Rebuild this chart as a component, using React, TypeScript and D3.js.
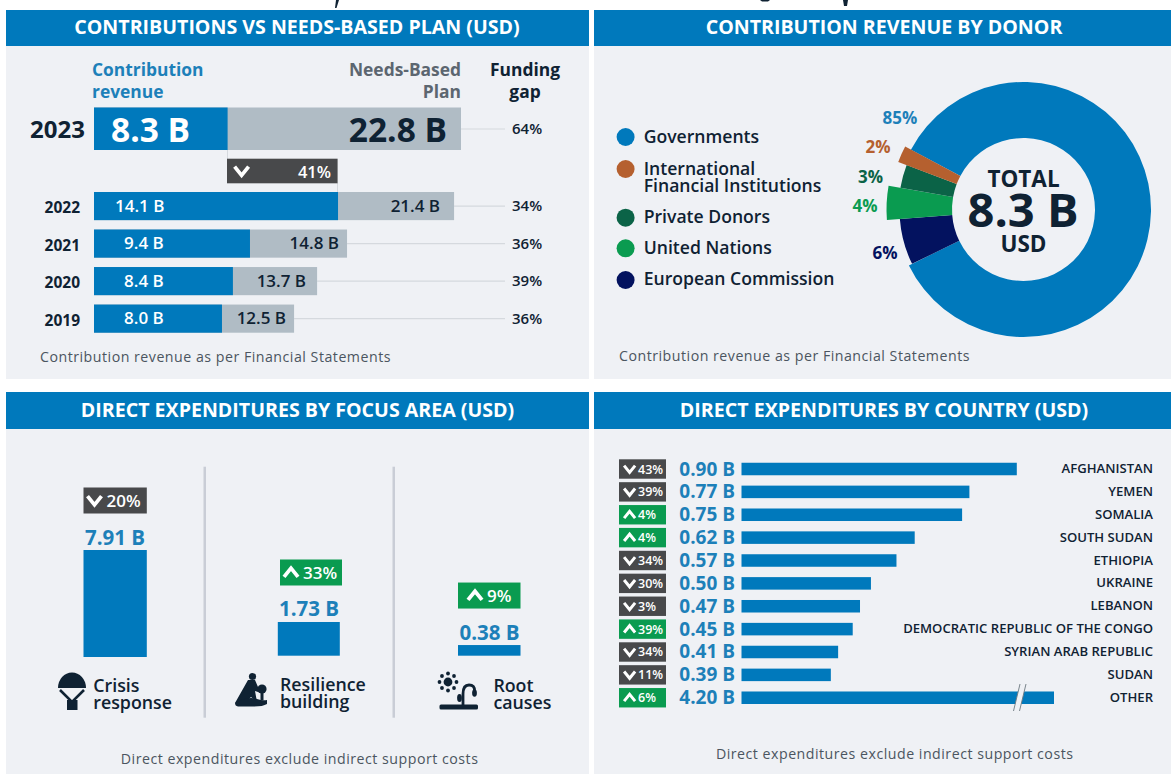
import React from "react";
import * as d3 from "d3";

const FONT = "'Open Sans', 'Noto Sans', sans-serif";
const BLUE = "#0079bc";
const TEXT_BLUE = "#1d80b9";
const INK = "#0f2233";
const PANEL = "#eff1f5";
const GREY_BAR = "#b0bcc5";
const DARK_BADGE = "#48494b";
const GREEN_BADGE = "#0a9b50";
const RULE = "#d5d9de";
const NOTE = "#4b5560";

// contributions vs needs-based plan
const planYears = ["2022", "2021", "2020", "2019"];
const contributionLabels = ["14.1 B", "9.4 B", "8.4 B", "8.0 B"];
const needsLabels = ["21.4 B", "14.8 B", "13.7 B", "12.5 B"];
const gapLabels = ["34%", "36%", "39%", "36%"];
// the bars in the source are not quite to scale, so these are read off the bar lengths, in B
const contributionBars = [15.16, 9.69, 8.63, 7.95];
const needsBars = [22.37, 15.72, 13.86, 12.43];
const latestContribution = 8.3;
const latestNeeds = 22.8;

// donor donut
const donors = ["Governments", "European Commission", "United Nations", "Private Donors", "International Financial Institutions"];
const donorShares = [85, 6, 4, 3, 2];
const donorColors = ["#0079bc", "#03125f", "#0a9b50", "#0b6347", "#b5602f"];
const donorRadii = [127.5, 124, 137, 125, 134];

// focus areas
const focusAreas = ["Crisis response", "Resilience building", "Root causes"];
const focusValues = [7.91, 1.73, 0.38];
const focusChanges = [-20, 33, 9];

// countries
const countries = [
  "AFGHANISTAN", "YEMEN", "SOMALIA", "SOUTH SUDAN", "ETHIOPIA", "UKRAINE", "LEBANON",
  "DEMOCRATIC REPUBLIC OF THE CONGO", "SYRIAN ARAB REPUBLIC", "SUDAN", "OTHER",
];
const countryValues = [0.9, 0.77, 0.75, 0.62, 0.57, 0.5, 0.47, 0.45, 0.41, 0.39, 4.2];
const countryChanges = [-43, -39, 4, 4, -34, -30, -3, 39, -34, -11, 6];

const planX = d3.scaleLinear().domain([0, 22.8]).range([94, 461]);
const planY = d3.scaleBand().domain(planYears).range([192, 332.7]).paddingInner(0.25);
const focusH = d3.scalePow().exponent(0.76).domain([0, 7.91]).range([0, 107]);
// truncated axis with a break past 0.90 for the "other" bar
const countryX = d3.scaleLinear().domain([0.145, 0.9, 4.2]).range([741.5, 1016.8, 1054]);
const countryY = d3.scaleBand().domain(countries).range([462.75, 704]).paddingInner(0.453);

function Txt({ x, y, size, weight = 600, fill = INK, anchor = "start", children, spacing }: any) {
  return (
    <text x={x} y={y} fontSize={size} fontWeight={weight} fill={fill} textAnchor={anchor}
      dominantBaseline="central" letterSpacing={spacing} fontFamily={FONT}>
      {children}
    </text>
  );
}

function Chevron({ x, y, size, up }: any) {
  const h = size * 0.62;
  const d = up
    ? `M${x - size / 2},${y + h / 2}L${x},${y - h / 2}L${x + size / 2},${y + h / 2}`
    : `M${x - size / 2},${y - h / 2}L${x},${y + h / 2}L${x + size / 2},${y - h / 2}`;
  return <path d={d} fill="none" stroke="#fff" strokeWidth={size * 0.27} />;
}

function Panel({ x, y, w, h, title }: any) {
  return (
    <g>
      <rect x={x} y={y} width={w} height={h} fill={PANEL} />
      <rect x={x} y={y} width={w} height={title.bar} fill={BLUE} />
      <Txt x={x + w / 2 + title.dx} y={y + title.bar / 2 - 1.2} size={19.6} weight={700} fill="#fff" anchor="middle">{title.text}</Txt>
    </g>
  );
}

function ParachuteIcon() {
  return (
    <g fill={INK}>
      <path d="M58,688 A14,15.5 0 0 1 86,688 Z" />
      <path d="M60,690 L72,702 L84,690" fill="none" stroke={INK} strokeWidth={2.6} />
      <rect x={67} y={700} width={10.5} height={10} />
    </g>
  );
}

function ResilienceIcon() {
  return (
    <g fill={INK}>
      <circle cx={252.5} cy={676.5} r={3.6} />
      <path d="M248,680 L255,680 L258,687 L263,689 L261,693 L255,691 L257,702 L251,697 L245,703 L235,703 Z" />
      <circle cx={262} cy={689} r={4.6} />
      <path d="M260.5,693 L263.5,693 L263.5,700 L260.5,700 Z" />
      <path d="M235,703 Q248,696 257,699 Q263,701 267,700 L267,704 Q262,707 250,706.5 L238,706.5 Q235,706 235,703 Z" />
    </g>
  );
}

function RootIcon() {
  const rays = d3.range(8).map((i) => (i * Math.PI) / 4);
  return (
    <g fill={INK}>
      <circle cx={448} cy={682} r={4.4} />
      {rays.map((a, i) => (
        <circle key={i} cx={448 + 8.5 * Math.cos(a)} cy={682 + 8.5 * Math.sin(a)} r={1.9} />
      ))}
      <rect x={439.5} y={704.5} width={38.5} height={5} rx={1.5} />
      <path d="M463,705 L463,694 Q463,685 469,685 Q475,685 474.5,691" fill="none" stroke={INK} strokeWidth={2.8} />
      <ellipse cx={474.5} cy={693} rx={2.4} ry={3.8} />
      <ellipse cx={459.5} cy={698} rx={2.4} ry={4} />
    </g>
  );
}

export default function App() {
  const pie = d3.pie<number>().sort(null)
    .startAngle((-62 * Math.PI) / 180)
    .endAngle((298 * Math.PI) / 180);
  const arcs = pie(donorShares);
  const arc = d3.arc<any>().innerRadius(71.5);

  const focusBars = [
    { x: 83.5, w: 63.3, bx: 83.5, bw: 63.3, label: 115, base: 657 },
    { x: 277.8, w: 62, bx: 280, bw: 62, label: 309, base: 655.7 },
    { x: 458, w: 62.5, bx: 458, bw: 62.5, label: 489.5, base: 655.7 },
  ];
  const focusText = [
    { x: 93.3, y: [684.5, 702] },
    { x: 280, y: [683.5, 700.5] },
    { x: 493.4, y: [684.5, 701.5] },
  ];
  const needsLabelInset = [14, 8, 11, 8];

  return (
    <svg width={1171} height={774} style={{ position: "absolute", left: 0, top: 0, background: "#fff" }}>
      {/* clipped descenders of the cropped heading above the panels */}
      <path d="M339,0 L336.5,8 L335,8 L336,0 Z M848,0 L847,6 L844,6 L843,0 Z M760,0 L770,0 L768,1.5 L762,1.5 Z" fill={INK} />

      <Panel x={6} y={10} w={583} h={369} title={{ text: "CONTRIBUTIONS VS NEEDS-BASED PLAN (USD)", bar: 36, dx: -0.5 }} />
      <Panel x={594} y={10} w={577} h={369} title={{ text: "CONTRIBUTION REVENUE BY DONOR", bar: 36, dx: 1.5 }} />
      <Panel x={6} y={392} w={583} h={382} title={{ text: "DIRECT EXPENDITURES BY FOCUS AREA (USD)", bar: 37, dx: 0 }} />
      <Panel x={594} y={392} w={577} h={382} title={{ text: "DIRECT EXPENDITURES BY COUNTRY (USD)", bar: 37, dx: 1.5 }} />

      {/* top left: plan vs contributions */}
      <Txt x={92} y={69} size={17.4} fill={TEXT_BLUE} weight={700}>Contribution</Txt>
      <Txt x={92} y={90.5} size={17.4} fill={TEXT_BLUE} weight={700}>revenue</Txt>
      <Txt x={461} y={69} size={17.4} weight={700} fill="#5c6670" anchor="end">Needs-Based</Txt>
      <Txt x={461} y={90.5} size={17.4} weight={700} fill="#5c6670" anchor="end">Plan</Txt>
      <Txt x={525} y={69} size={17.4} weight={700} anchor="middle">Funding</Txt>
      <Txt x={525} y={90.5} size={17.4} weight={700} anchor="middle">gap</Txt>

      <rect x={planX(0)} y={107.5} width={planX(latestNeeds) - planX(0)} height={42.5} fill={GREY_BAR} />
      <rect x={planX(0)} y={107.5} width={planX(latestContribution) - planX(0)} height={42.5} fill={BLUE} />
      <line x1={planX(latestNeeds)} x2={505} y1={129} y2={129} stroke={RULE} strokeWidth={1.2} />
      <Txt x={85} y={128.5} size={24} weight={700} anchor="end">2023</Txt>
      <Txt x={111} y={128.5} size={33.5} weight={700} fill="#fff">8.3 B</Txt>
      <Txt x={447} y={128.5} size={33.5} weight={700} anchor="end">22.8 B</Txt>
      <Txt x={512} y={127.5} size={15}>64%</Txt>

      <line x1={227.5} x2={227.5} y1={150} y2={159} stroke={RULE} />
      <line x1={337.5} x2={337.5} y1={183} y2={192} stroke={RULE} />
      <rect x={227} y={158.7} width={110.6} height={24.6} fill={DARK_BADGE} />
      <Chevron x={241.6} y={171} size={14} />
      <Txt x={331} y={171} size={16.5} fill="#fff" anchor="end">41%</Txt>

      {planYears.map((year, i) => {
        const y = planY(year)!;
        const h = planY.bandwidth();
        const mid = y + h / 2;
        return (
          <g key={year}>
            <line x1={planX(needsBars[i])} x2={505} y1={mid} y2={mid} stroke={RULE} strokeWidth={1.2} />
            <rect x={planX(0)} y={y} width={planX(needsBars[i]) - planX(0)} height={h} fill={GREY_BAR} />
            <rect x={planX(0)} y={y} width={planX(contributionBars[i]) - planX(0)} height={h} fill={BLUE} />
            <Txt x={80} y={mid + 1} size={15.5} weight={700} anchor="end">{year}</Txt>
            <Txt x={i === 0 ? 115 : 124} y={mid - 1} size={17} fill="#fff">{contributionLabels[i]}</Txt>
            <Txt x={planX(needsBars[i]) - needsLabelInset[i]} y={mid - 1} size={17} anchor="end">{needsLabels[i]}</Txt>
            <Txt x={512} y={mid - 1} size={15}>{gapLabels[i]}</Txt>
          </g>
        );
      })}
      <Txt x={40} y={356} size={14.2} weight={400} fill={NOTE} spacing={0.5}>Contribution revenue as per Financial Statements</Txt>

      {/* top right: donut */}
      <g transform="translate(1023.5,209.5)">
        {arcs.map((a, i) => (
          <path key={donors[i]} d={arc.outerRadius(donorRadii[i])(a)!} fill={donorColors[i]} />
        ))}
      </g>
      <Txt x={1023.5} y={178} size={22.5} weight={700} anchor="middle">TOTAL</Txt>
      <Txt x={1023} y={209} size={47} weight={700} anchor="middle">8.3 B</Txt>
      <Txt x={1023.5} y={243} size={22.5} weight={700} anchor="middle">USD</Txt>
      <Txt x={900} y={117} size={17} weight={700} fill={TEXT_BLUE} anchor="middle">85%</Txt>
      <Txt x={878} y={146} size={17} weight={700} fill={donorColors[4]} anchor="middle">2%</Txt>
      <Txt x={870.5} y={176} size={17} weight={700} fill={donorColors[3]} anchor="middle">3%</Txt>
      <Txt x={865} y={205} size={17} weight={700} fill={donorColors[2]} anchor="middle">4%</Txt>
      <Txt x={885} y={252} size={17} weight={700} fill={donorColors[1]} anchor="middle">6%</Txt>

      <circle cx={625.6} cy={137} r={9} fill={donorColors[0]} />
      <circle cx={625.6} cy={169} r={9} fill={donorColors[4]} />
      <circle cx={625.6} cy={217.7} r={9} fill={donorColors[3]} />
      <circle cx={625.6} cy={248.3} r={9} fill={donorColors[2]} />
      <circle cx={625.6} cy={280} r={9} fill={donorColors[1]} />
      <Txt x={643.7} y={136} size={17.6}>{donors[0]}</Txt>
      <Txt x={643.7} y={168} size={17.6}>International</Txt>
      <Txt x={643.7} y={185} size={17.6}>Financial Institutions</Txt>
      <Txt x={643.7} y={216} size={17.6}>{donors[3]}</Txt>
      <Txt x={643.7} y={247} size={17.6}>{donors[2]}</Txt>
      <Txt x={643.7} y={278} size={17.6}>{donors[1]}</Txt>
      <Txt x={619} y={355.5} size={14.2} weight={400} fill={NOTE} spacing={0.5}>Contribution revenue as per Financial Statements</Txt>

      {/* bottom left: focus areas */}
      <rect x={203.5} y={466.7} width={2.5} height={251} fill="#c9cdd6" />
      <rect x={392.5} y={466.7} width={2.5} height={251} fill="#c9cdd6" />
      {focusAreas.map((name, i) => {
        const b = focusBars[i];
        const h = focusH(focusValues[i]);
        const top = b.base - h;
        const change = focusChanges[i];
        const badgeY = top - 62.5;
        const mid = badgeY + 13;
        const words = name.split(" ");
        return (
          <g key={name}>
            <rect x={b.x} y={top} width={b.w} height={h} fill={BLUE} />
            <Txt x={b.label} y={top - 13.5} size={20.5} weight={700} fill={TEXT_BLUE} anchor="middle">{focusValues[i].toFixed(2) + " B"}</Txt>
            <rect x={b.bx} y={badgeY} width={b.bw} height={26} fill={change < 0 ? DARK_BADGE : GREEN_BADGE} />
            <Chevron x={b.bx + 11 + (i === 2 ? 6 : 0)} y={mid} size={14} up={change > 0} />
            <Txt x={b.bx + 23 + (i === 2 ? 6 : 0)} y={mid} size={17} fill="#fff">{Math.abs(change) + "%"}</Txt>
            <Txt x={focusText[i].x} y={focusText[i].y[0]} size={17.8}>{words[0]}</Txt>
            <Txt x={focusText[i].x} y={focusText[i].y[1]} size={17.8}>{words[1]}</Txt>
          </g>
        );
      })}
      <ParachuteIcon />
      <ResilienceIcon />
      <RootIcon />
      <Txt x={299.6} y={758.5} size={14.2} weight={400} fill={NOTE} anchor="middle" spacing={0.5}>Direct expenditures exclude indirect support costs</Txt>

      {/* bottom right: countries */}
      {countries.map((name, i) => {
        const y = countryY(name)!;
        const h = countryY.bandwidth();
        const mid = y + h / 2;
        const change = countryChanges[i];
        return (
          <g key={name}>
            <rect x={619} y={mid - 9.7} width={47} height={19.4} fill={change < 0 ? DARK_BADGE : GREEN_BADGE} />
            <Chevron x={629.6} y={mid} size={11} up={change > 0} />
            <Txt x={638} y={mid} size={12.5} fill="#fff">{Math.abs(change) + "%"}</Txt>
            <Txt x={735} y={mid - 0.5} size={19} weight={700} fill={TEXT_BLUE} anchor="end">{countryValues[i].toFixed(2) + " B"}</Txt>
            <rect x={countryX.range()[0]} y={y} width={countryX(countryValues[i]) - countryX.range()[0]} height={h} fill={BLUE} />
            <Txt x={1153} y={mid - 1} size={13.1} anchor="end">{name}</Txt>
          </g>
        );
      })}
      {/* axis break on the last bar */}
      <path d="M1013.5,711 L1020,684 L1026,684 L1019.5,711 Z" fill={PANEL} />
      <path d="M1013.5,711 L1020,684 M1019.5,711 L1026,684" stroke="#6d7880" strokeWidth={0.9} fill="none" />
      <Txt x={894.7} y={753.5} size={14.2} weight={400} fill={NOTE} anchor="middle" spacing={0.5}>Direct expenditures exclude indirect support costs</Txt>
    </svg>
  );
}
